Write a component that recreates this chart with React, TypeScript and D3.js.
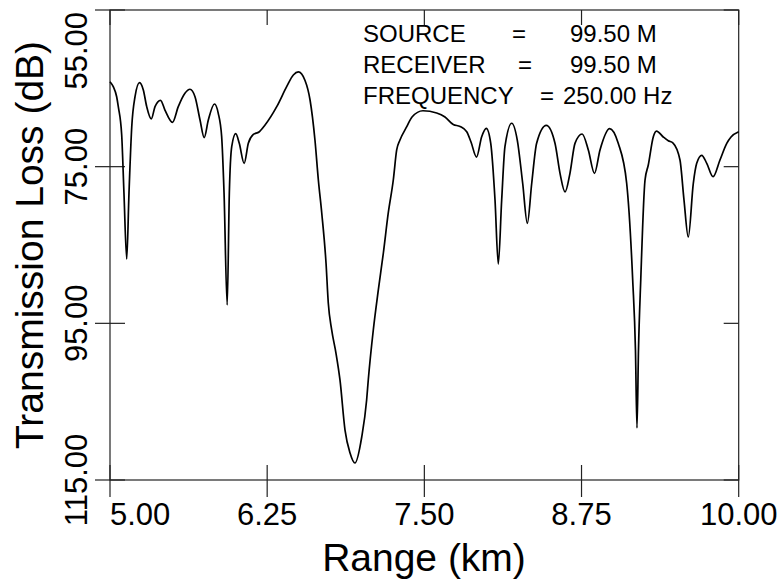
import React from "react";
import * as d3 from "d3";

const rangeKm = [5.000, 5.026, 5.053, 5.066, 5.093, 5.111, 5.133, 5.151, 5.173, 5.199, 5.235, 5.265, 5.292, 5.328, 5.358, 5.402, 5.437, 5.497, 5.543, 5.596, 5.636, 5.676, 5.716, 5.749, 5.782, 5.831, 5.861, 5.888, 5.907, 5.932, 5.949, 5.968, 6.000, 6.028, 6.067, 6.100, 6.140, 6.185, 6.233, 6.326, 6.405, 6.458, 6.498, 6.551, 6.591, 6.630, 6.657, 6.684, 6.718, 6.736, 6.763, 6.797, 6.829, 6.869, 6.909, 6.948, 7.002, 7.041, 7.054, 7.094, 7.134, 7.174, 7.213, 7.253, 7.280, 7.306, 7.360, 7.402, 7.489, 7.598, 7.664, 7.730, 7.784, 7.837, 7.871, 7.915, 7.956, 7.993, 8.028, 8.062, 8.088, 8.115, 8.141, 8.195, 8.239, 8.282, 8.319, 8.354, 8.393, 8.470, 8.539, 8.579, 8.619, 8.658, 8.698, 8.755, 8.804, 8.853, 8.897, 8.974, 9.042, 9.109, 9.157, 9.179, 9.191, 9.203, 9.221, 9.255, 9.281, 9.321, 9.346, 9.400, 9.440, 9.478, 9.533, 9.565, 9.599, 9.639, 9.666, 9.706, 9.746, 9.796, 9.851, 9.905, 9.939, 10.000];

const lossDb = [64.15, 64.79, 66.07, 67.34, 70.96, 78.36, 86.79, 78.36, 69.90, 66.07, 64.28, 65.21, 67.34, 68.91, 67.34, 66.53, 67.77, 69.34, 67.34, 65.63, 65.12, 66.07, 69.04, 71.28, 69.04, 67.00, 68.19, 71.17, 78.36, 92.66, 78.36, 72.45, 70.79, 72.02, 74.57, 72.02, 70.89, 70.57, 69.68, 67.34, 64.79, 63.30, 62.91, 64.00, 66.49, 71.60, 76.70, 80.91, 87.30, 92.40, 95.85, 98.79, 102.23, 108.62, 111.55, 112.83, 109.51, 104.79, 102.23, 95.85, 90.74, 86.02, 80.91, 76.70, 72.87, 71.60, 69.90, 68.66, 67.86, 68.15, 68.66, 69.62, 69.87, 70.54, 71.85, 73.77, 71.17, 70.10, 72.02, 79.26, 87.43, 79.26, 72.45, 69.46, 71.60, 77.12, 82.23, 77.12, 72.02, 69.74, 72.02, 75.85, 78.23, 75.85, 72.02, 70.83, 72.87, 75.85, 72.87, 70.15, 72.02, 77.12, 89.47, 98.40, 108.36, 98.40, 89.47, 76.70, 74.79, 71.17, 70.45, 71.21, 71.69, 71.98, 74.15, 79.26, 83.98, 77.12, 74.57, 73.55, 74.57, 76.28, 74.15, 72.02, 71.21, 70.54];

const xTicks = [5, 6.25, 7.5, 8.75, 10];
const yTicks = [55, 75, 95, 115];
const infoLabels = ["SOURCE", "RECEIVER", "FREQUENCY"];
const infoValues = ["99.50 M", "99.50 M", "250.00 Hz"];

const FONT = "'Liberation Sans', Arial, Helvetica, sans-serif";

export default function App() {
  const W = 783, H = 580;
  const left = 110, right = 738.7, top = 10, bottom = 480;
  const x = d3.scaleLinear().domain([5, 10]).range([left, right]);
  const y = d3.scaleLinear().domain([55, 115]).range([top, bottom]);
  const n = Math.min(rangeKm.length, lossDb.length);
  const pts: [number, number][] = [];
  for (let i = 0; i < n; i++) pts.push([rangeKm[i], lossDb[i]]);
  const line = d3
    .line<[number, number]>()
    .x((d) => x(d[0]))
    .y((d) => y(d[1]))
    .curve(d3.curveMonotoneX);

  const axisColor = "#222";
  const eqX = [512, 518, 540];
  const valX = [570, 570, 563];

  return (
    <svg
      width={W}
      height={H}
      style={{ position: "absolute", left: 0, top: 0, background: "#fff" }}
      fontFamily={FONT}
    >
      <rect x={0} y={0} width={W} height={H} fill="#fff" />
      {/* frame */}
      <rect
        x={left}
        y={top}
        width={right - left}
        height={bottom - top}
        fill="none"
        stroke={axisColor}
        strokeWidth={1.2}
      />
      {/* x ticks */}
      {xTicks.map((t) => (
        <g key={"xt" + t}>
          <line x1={x(t)} x2={x(t)} y1={bottom - 15} y2={bottom + 17} stroke={axisColor} strokeWidth={1.2} />
          <line x1={x(t)} x2={x(t)} y1={top} y2={top + 15} stroke={axisColor} strokeWidth={1.2} />
          <text
            x={t === 5 ? x(t) : x(t)}
            y={525}
            fontSize={31}
            textAnchor={t === 5 ? "start" : "middle"}
            fill="#000"
          >
            {t.toFixed(2)}
          </text>
        </g>
      ))}
      {/* y ticks */}
      {yTicks.map((t, i) => (
        <g key={"yt" + t}>
          <line x1={left - 15} x2={left + 15} y1={y(t)} y2={y(t)} stroke={axisColor} strokeWidth={1.2} />
          <line x1={right - 15} x2={right} y1={y(t)} y2={y(t)} stroke={axisColor} strokeWidth={1.2} />
          <text
            transform={`translate(87, ${i === 0 ? 12 : y(t)}) rotate(-90)`}
            fontSize={31}
            textAnchor={i === 0 ? "end" : "middle"}
            fill="#000"
          >
            {t.toFixed(2)}
          </text>
        </g>
      ))}
      {/* curve */}
      <path d={line(pts) || ""} fill="none" stroke="#000" strokeWidth={1.7} strokeLinejoin="round" />
      {/* info text */}
      {infoLabels.map((lab, i) => (
        <g key={lab} fontSize={24} fill="#000">
          <text x={363} y={42 + i * 31}>{lab}</text>
          <text x={eqX[i]} y={42 + i * 31}>=</text>
          <text x={valX[i]} y={42 + i * 31}>{infoValues[i]}</text>
        </g>
      ))}
      {/* axis titles */}
      <text x={424} y={571} fontSize={39} textAnchor="middle" fill="#000">
        Range (km)
      </text>
      <text transform="translate(43, 245) rotate(-90)" fontSize={39} textAnchor="middle" fill="#000">
        Transmission Loss (dB)
      </text>
    </svg>
  );
}
